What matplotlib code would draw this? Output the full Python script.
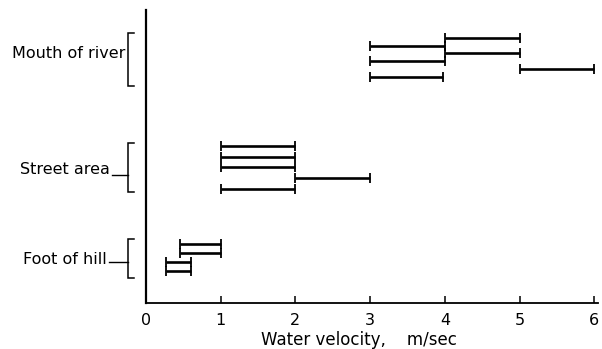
import numpy as np
import matplotlib.pyplot as plt

# velocity ranges (m/sec), top row first within each site
sites = ['Mouth of river', 'Street area', 'Foot of hill']
mouth_lo = [4, 3, 4, 3, 5, 3]
mouth_hi = [5, 4, 5, 4, 6, 3.97]
street_lo = [1, 1, 1, 2, 1]
street_hi = [2, 2, 2, 3, 2]
foot_lo = [0.45, 0.45, 0.27, 0.27]
foot_hi = [1.0, 1.0, 0.6, 0.6]
xticks = [0, 1, 2, 3, 4, 5, 6]

# layout (y grows downward, in figure pixel rows)
first_row = [37.7, 145.7, 244]
row_gap = [7.8, 10.8, 8.9]
bracket = [(33, 86), (143, 192), (239, 278)]
label_y = [53, 170, 259]
label_x = [-0.28, -0.49, -0.53]
dash_y = [53, 175, 262]

fig = plt.figure(figsize=(6.02, 3.49), dpi=100)
ax = fig.add_axes([146/602, 46/349, 452/602, 293/349])
ax.set_xlim(0, 6.05)
ax.set_ylim(303, 10)

data = [(mouth_lo, mouth_hi), (street_lo, street_hi), (foot_lo, foot_hi)]
for g, (lo, hi) in enumerate(data):
    lo = np.array(lo, dtype=float)
    hi = np.array(hi, dtype=float)
    y = first_row[g] + row_gap[g] * np.arange(len(lo))
    ax.errorbar((lo + hi) / 2, y, xerr=(hi - lo) / 2, fmt='none',
                ecolor='black', elinewidth=1.9, capsize=3.6, capthick=1.3)

    # bracket and tick on the left of the axis
    b0, b1 = bracket[g]
    bx, ex = -0.24, -0.16
    ax.plot([ex, bx, bx, ex], [b0, b0, b1, b1], color='black', lw=1.1,
            clip_on=False, solid_joinstyle='miter')
    ax.plot([label_x[g] + 0.04, bx], [dash_y[g], dash_y[g]], color='black',
            lw=1.0, clip_on=False)
    ax.text(label_x[g], label_y[g], sites[g], ha='right', va='center',
            fontsize=11.5)

ax.spines['top'].set_visible(False)
ax.spines['right'].set_visible(False)
ax.spines['left'].set_linewidth(1.6)
ax.spines['bottom'].set_linewidth(1.3)
ax.set_yticks([])
ax.set_xticks(xticks)
ax.set_xticklabels([str(t) for t in xticks], fontsize=11.5)
ax.tick_params(axis='x', direction='in', length=5, width=1.1, pad=7)
ax.set_xlabel('Water velocity,    m/sec', fontsize=12)
ax.xaxis.label.set_va('baseline')
ax.xaxis.set_label_coords(0.47, -0.143)

plt.savefig('out.png', dpi=100)
